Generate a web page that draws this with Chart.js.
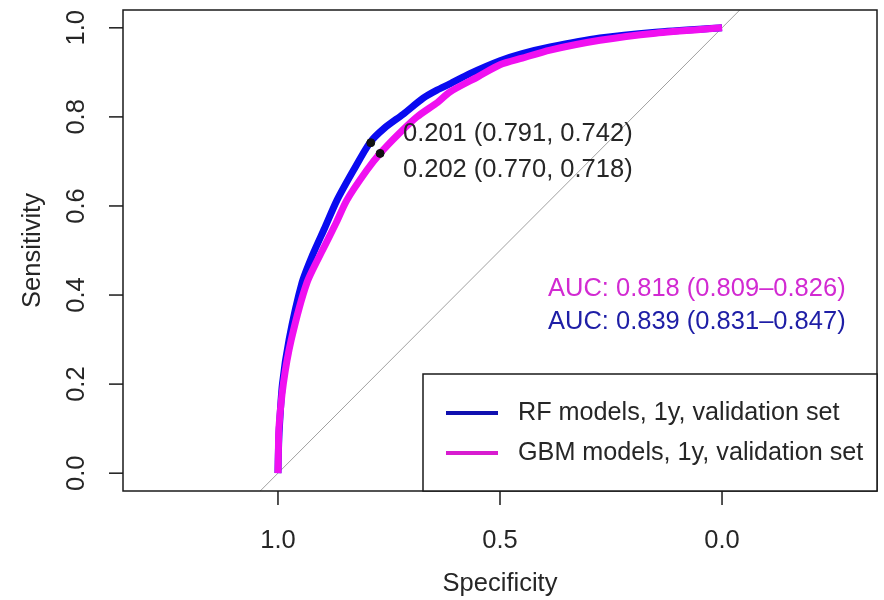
<!DOCTYPE html>
<html><head><meta charset="utf-8">
<script src="https://cdn.jsdelivr.net/npm/chart.js@4"></script>
<style>html,body{margin:0;padding:0;background:#fff}</style>
</head><body>
<canvas id="c" width="884" height="600"></canvas>
<script>
// ---- data ----
const rfLabel = 'RF models, 1y, validation set';
const gbmLabel = 'GBM models, 1y, validation set';
const rfSpec = [1.0, 0.999, 0.997, 0.990, 0.975, 0.946, 0.922, 0.895, 0.867, 0.830, 0.793, 0.760, 0.718, 0.673, 0.642, 0.613, 0.568, 0.500, 0.450, 0.387, 0.275, 0.150, 0.0];
const rfSens = [0.0, 0.05, 0.10, 0.20, 0.30, 0.427, 0.490, 0.550, 0.613, 0.680, 0.742, 0.775, 0.806, 0.842, 0.860, 0.874, 0.897, 0.926, 0.942, 0.957, 0.977, 0.990, 1.0];
const gbmSpec = [1.0, 0.999, 0.998, 0.988, 0.970, 0.935, 0.900, 0.870, 0.845, 0.800, 0.770, 0.730, 0.687, 0.640, 0.613, 0.550, 0.500, 0.450, 0.387, 0.275, 0.150, 0.0];
const gbmSens = [0.0, 0.05, 0.10, 0.20, 0.30, 0.427, 0.500, 0.560, 0.613, 0.680, 0.718, 0.760, 0.800, 0.833, 0.856, 0.890, 0.917, 0.932, 0.950, 0.972, 0.988, 1.0];
const thrValues = [0.201, 0.202];
const thrSpec = [0.791, 0.770];
const thrSens = [0.742, 0.718];
const aucTexts = ['AUC: 0.818 (0.809\u20130.826)', 'AUC: 0.839 (0.831\u20130.847)'];
const xTicks = [1.0, 0.5, 0.0];
const yTicks = [0.0, 0.2, 0.4, 0.6, 0.8, 1.0];
const diagSpec = [1.6, -0.6];
const diagSens = [-0.6, 1.6];

// ---- styling / placement ----
const blue = '#0a0af0';
const magenta = '#f010f0';
const textCol = '#262626';
const FONT = '25.5px "Liberation Sans", Arial, sans-serif';
const LEGFONT = '25.2px "Liberation Sans", Arial, sans-serif';
const thrTextPos = [{x: 0.7185, y: 0.762}, {x: 0.7185, y: 0.681}];
const aucTextPos = [{x: 0.392, y: 0.413, c: '#d22ad2'}, {x: 0.392, y: 0.339, c: '#1e1ea6'}];

const pts = (xs, ys) => xs.map((x, i) => ({x: x, y: ys[i]}));

const decor = {
  id: 'decor',
  afterDraw(chart) {
    const ctx = chart.ctx, a = chart.chartArea;
    const xs = chart.scales.x, ys = chart.scales.y;
    ctx.save();
    ctx.strokeStyle = '#1a1a1a';
    ctx.lineWidth = 1.5;
    ctx.strokeRect(a.left, a.top, a.right - a.left, a.bottom - a.top);
    ctx.fillStyle = textCol;
    ctx.font = FONT;
    // x ticks
    ctx.textAlign = 'center'; ctx.textBaseline = 'middle';
    xs.ticks.forEach(t => {
      const px = xs.getPixelForValue(t.value);
      ctx.beginPath(); ctx.moveTo(px, a.bottom); ctx.lineTo(px, a.bottom + 14); ctx.stroke();
      ctx.fillText(t.value.toFixed(1), px, 541);
    });
    // y ticks
    ys.ticks.forEach(t => {
      const py = ys.getPixelForValue(t.value);
      ctx.beginPath(); ctx.moveTo(a.left, py); ctx.lineTo(a.left - 14, py); ctx.stroke();
      ctx.save(); ctx.translate(77, py); ctx.rotate(-Math.PI / 2);
      ctx.fillText(t.value.toFixed(1), 0, 0); ctx.restore();
    });
    // axis titles
    ctx.fillText('Specificity', (a.left + a.right) / 2, 584);
    ctx.save(); ctx.translate(33, (a.top + a.bottom) / 2); ctx.rotate(-Math.PI / 2);
    ctx.fillText('Sensitivity', 0, 0); ctx.restore();
    // threshold labels
    ctx.textAlign = 'left';
    thrValues.forEach((v, i) => {
      const s = v.toFixed(3) + ' (' + thrSpec[i].toFixed(3) + ', ' + thrSens[i].toFixed(3) + ')';
      ctx.fillText(s, xs.getPixelForValue(thrTextPos[i].x), ys.getPixelForValue(thrTextPos[i].y));
    });
    // AUC labels
    aucTexts.forEach((s, i) => {
      ctx.fillStyle = aucTextPos[i].c;
      ctx.fillText(s, xs.getPixelForValue(aucTextPos[i].x), ys.getPixelForValue(aucTextPos[i].y));
    });
    // legend
    const lx = 423, ly = 374;
    ctx.fillStyle = '#fff';
    ctx.fillRect(lx, ly, a.right - lx, a.bottom - ly);
    ctx.strokeStyle = '#1a1a1a'; ctx.lineWidth = 1.5;
    ctx.strokeRect(lx, ly, a.right - lx, a.bottom - ly);
    ctx.font = LEGFONT;
    const items = [{l: rfLabel, c: '#1010b0'}, {l: gbmLabel, c: '#d81cd0'}];
    items.forEach((it, i) => {
      const yy = 413 + i * 40;
      ctx.strokeStyle = it.c; ctx.lineWidth = 4;
      ctx.beginPath(); ctx.moveTo(446, yy); ctx.lineTo(498, yy); ctx.stroke();
      ctx.fillStyle = textCol;
      ctx.fillText(it.l, 518, yy);
    });
    ctx.restore();
  }
};

new Chart(document.getElementById('c'), {
  type: 'scatter',
  data: {
    datasets: [
      {label: 'thresholds', data: pts(thrSpec, thrSens), pointRadius: 4, pointBackgroundColor: '#111', pointBorderColor: '#111', showLine: false, order: 0},
      {label: gbmLabel, data: pts(gbmSpec, gbmSens), showLine: true, borderColor: magenta, backgroundColor: magenta, borderWidth: 7, pointRadius: 0, tension: 0.25, order: 1},
      {label: rfLabel, data: pts(rfSpec, rfSens), showLine: true, borderColor: blue, backgroundColor: blue, borderWidth: 7, pointRadius: 0, tension: 0.25, order: 2},
      {label: 'diag', data: pts(diagSpec, diagSens), showLine: true, borderColor: '#a0a0a0', borderWidth: 1, pointRadius: 0, order: 3}
    ]
  },
  options: {
    responsive: false,
    animation: false,
    devicePixelRatio: 1,
    layout: {padding: {top: 10, right: 7, left: 0, bottom: 0}},
    plugins: {legend: {display: false}, tooltip: {enabled: false}},
    scales: {
      x: {
        type: 'linear', reverse: true, min: -0.349, max: 1.349,
        grid: {display: false}, border: {display: false}, ticks: {display: false},
        afterBuildTicks: s => { s.ticks = xTicks.map(v => ({value: v})); },
        afterFit: s => { s.height = 109; }
      },
      y: {
        type: 'linear', min: -0.04, max: 1.04,
        grid: {display: false}, border: {display: false}, ticks: {display: false},
        afterBuildTicks: s => { s.ticks = yTicks.map(v => ({value: v})); },
        afterFit: s => { s.width = 123; }
      }
    }
  },
  plugins: [decor]
});
</script>
</body></html>
